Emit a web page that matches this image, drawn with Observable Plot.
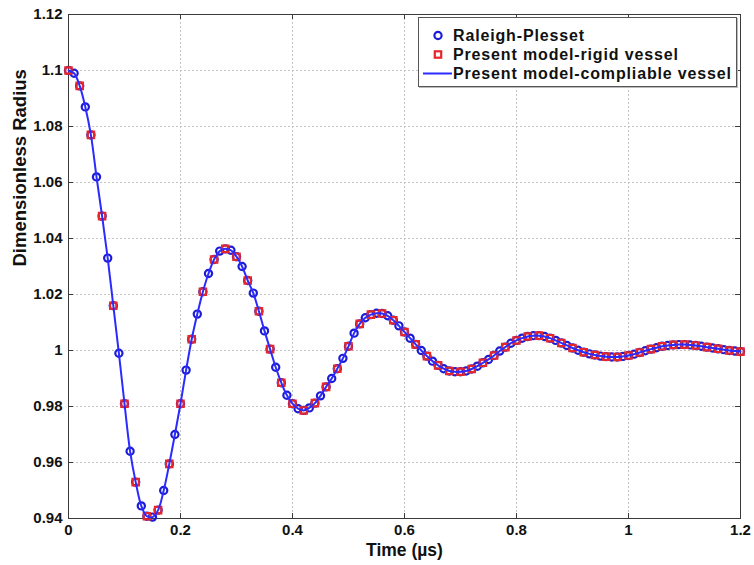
<!DOCTYPE html>
<html>
<head>
<meta charset="utf-8">
<script src="https://cdn.jsdelivr.net/npm/d3@7"></script>
<script src="https://cdn.jsdelivr.net/npm/@observablehq/plot@0.6"></script>
<style>
  html, body { margin: 0; padding: 0; background: #fff; }
  #wrap { position: relative; width: 754px; height: 565px; font-family: "Liberation Sans", Arial, sans-serif; }
  #legend { position: absolute; left: 418px; top: 17px; width: 317px; height: 68px; border: 1px solid #555; background: #fff; box-shadow: 1px 1px 0 #bbb; font-weight: bold; font-size: 16px; letter-spacing: 0.85px; color: #111; }
  .row { position: absolute; left: 0; height: 19px; display: flex; align-items: center; white-space: nowrap; }
  .row svg { display: block; }
</style>
</head>
<body>
<div id="wrap"></div>
<script>
// Time (µs) samples
const time = [0.00,0.01,0.02,0.03,0.04,0.05,0.06,0.07,0.08,0.09,
  0.10,0.11,0.12,0.13,0.14,0.15,0.16,0.17,0.18,0.19,
  0.20,0.21,0.22,0.23,0.24,0.25,0.26,0.27,0.28,0.29,
  0.30,0.31,0.32,0.33,0.34,0.35,0.36,0.37,0.38,0.39,
  0.40,0.41,0.42,0.43,0.44,0.45,0.46,0.47,0.48,0.49,
  0.50,0.51,0.52,0.53,0.54,0.55,0.56,0.57,0.58,0.59,
  0.60,0.61,0.62,0.63,0.64,0.65,0.66,0.67,0.68,0.69,
  0.70,0.71,0.72,0.73,0.74,0.75,0.76,0.77,0.78,0.79,
  0.80,0.81,0.82,0.83,0.84,0.85,0.86,0.87,0.88,0.89,
  0.90,0.91,0.92,0.93,0.94,0.95,0.96,0.97,0.98,0.99,
  1.00,1.01,1.02,1.03,1.04,1.05,1.06,1.07,1.08,1.09,
  1.10,1.11,1.12,1.13,1.14,1.15,1.16,1.17,1.18,1.19,1.20];

// Raleigh-Plesset (circles)
const radiusRP = [1.1000,1.0990,1.0945,1.0870,1.0770,1.0620,1.0480,1.0330,1.0160,0.9990,
  0.9810,0.9640,0.9530,0.9445,0.9408,0.9405,0.9430,0.9500,0.9595,0.9700,
  0.9810,0.9930,1.0040,1.0130,1.0210,1.0275,1.0325,1.0355,1.0363,1.0358,
  1.0335,1.0300,1.0250,1.0205,1.0140,1.0070,1.0005,0.9940,0.9885,0.9840,
  0.9810,0.9792,0.9786,0.9795,0.9812,0.9838,0.9870,0.9900,0.9935,0.9972,
  1.0015,1.0062,1.0095,1.0117,1.0128,1.0133,1.0132,1.0124,1.0108,1.0088,
  1.0066,1.0044,1.0022,1.0000,0.9980,0.9962,0.9947,0.9935,0.9927,0.9924,
  0.9924,0.9927,0.9934,0.9944,0.9956,0.9968,0.9982,0.9998,1.0012,1.0026,
  1.0036,1.0044,1.0050,1.0053,1.0053,1.0050,1.0044,1.0036,1.0027,1.0018,
  1.0009,1.0001,0.9994,0.9988,0.9984,0.9980,0.9978,0.9977,0.9977,0.9979,
  0.9982,0.9987,0.9993,0.9999,1.0005,1.0010,1.0015,1.0018,1.0020,1.0021,
  1.0021,1.0020,1.0018,1.0015,1.0012,1.0009,1.0006,1.0003,1.0000,0.9998,0.9996];

// Present model - compliable vessel (line)
const radiusCompliable = radiusRP.slice();

// Present model - rigid vessel (squares)
const timeRigid = [0.00,0.02,0.04,0.06,0.08,0.10,0.12,0.14,0.16,0.18,
  0.20,0.22,0.24,0.26,0.28,0.30,0.32,0.34,0.36,0.38,
  0.40,0.42,0.44,0.46,0.48,0.50,0.52,0.54,0.56,0.58,
  0.60,0.62,0.64,0.66,0.68,0.70,0.72,0.74,0.76,0.78,
  0.80,0.82,0.84,0.86,0.88,0.90,0.92,0.94,0.96,0.98,
  1.00,1.02,1.04,1.06,1.08,1.10,1.12,1.14,1.16,1.18,1.20];
const radiusRigid = [1.1000,1.0945,1.0770,1.0480,1.0160,0.9810,0.9530,0.9408,0.9430,0.9595,
  0.9810,1.0040,1.0210,1.0325,1.0363,1.0335,1.0250,1.0140,1.0005,0.9885,
  0.9810,0.9786,0.9812,0.9870,0.9935,1.0015,1.0095,1.0128,1.0132,1.0108,
  1.0066,1.0022,0.9980,0.9947,0.9927,0.9924,0.9934,0.9956,0.9982,1.0012,
  1.0036,1.0050,1.0053,1.0044,1.0027,1.0009,0.9994,0.9984,0.9978,0.9977,
  0.9982,0.9993,1.0005,1.0015,1.0020,1.0021,1.0018,1.0012,1.0006,1.0000,0.9996];

const xTicks = [0, 0.2, 0.4, 0.6, 0.8, 1, 1.2];
const xTickLabels = ["0", "0.2", "0.4", "0.6", "0.8", "1", "1.2"];
const yTicks = [0.94, 0.96, 0.98, 1, 1.02, 1.04, 1.06, 1.08, 1.1, 1.12];
const yTickLabels = ["0.94", "0.96", "0.98", "1", "1.02", "1.04", "1.06", "1.08", "1.1", "1.12"];

const xLabel = "Time (µs)";
const yLabel = "Dimensionless Radius";
const seriesNames = ["Raleigh-Plesset", "Present model-rigid vessel", "Present model-compliable vessel"];

const rp = time.map((t, i) => ({t, r: radiusRP[i]}));
const comp = time.map((t, i) => ({t, r: radiusCompliable[i]}));
const rigid = timeRigid.map((t, i) => ({t, r: radiusRigid[i]}));

const W = 754, H = 565, ML = 68, MR = 14, MT = 14, MB = 47;
const fw = W - ML - MR, fh = H - MT - MB;
const tickLen = 5;
const axisColor = "#3a3a3a";
const blue = "#1c1cd6";
const red = "#e5262b";

const chart = Plot.plot({
  width: W, height: H,
  marginLeft: ML, marginRight: MR, marginTop: MT, marginBottom: MB,
  style: {fontFamily: "'Liberation Sans', Arial, sans-serif", fontSize: "15px", fontWeight: "bold", color: "#111", background: "#fff", overflow: "visible"},
  x: {domain: [0, 1.2]},
  y: {domain: [0.94, 1.12]},
  marks: [
    Plot.gridX(xTicks, {stroke: "#c4c4c4", strokeOpacity: 1, strokeDasharray: "2,2"}),
    Plot.gridY(yTicks, {stroke: "#c4c4c4", strokeOpacity: 1, strokeDasharray: "2,2"}),
    Plot.tickX(xTicks, {x: d => d, insetTop: fh - tickLen, stroke: axisColor}),
    Plot.tickX(xTicks, {x: d => d, insetBottom: fh - tickLen, stroke: axisColor}),
    Plot.tickY(yTicks, {y: d => d, insetRight: fw - tickLen, stroke: axisColor}),
    Plot.tickY(yTicks, {y: d => d, insetLeft: fw - tickLen, stroke: axisColor}),
    Plot.frame({stroke: axisColor}),
    Plot.axisX(xTicks, {tickSize: 0, tickPadding: 6, tickFormat: (d, i) => xTickLabels[i], label: null}),
    Plot.axisY(yTicks, {tickSize: 0, tickPadding: 6, tickFormat: (d, i) => yTickLabels[i], label: null}),
    Plot.text([xLabel], {text: d => d, frameAnchor: "bottom", dy: 37, fontSize: 17.5, fontWeight: "bold", fill: "#111"}),
    Plot.text([yLabel], {text: d => d, frameAnchor: "left", rotate: -90, dx: -48, fontSize: 18.5, fontWeight: "bold", fill: "#111"}),
    Plot.dot(rp, {x: "t", y: "r", symbol: "circle", r: 3.6, stroke: blue, strokeWidth: 2.2, fill: "none"}),
    Plot.dot(rigid, {x: "t", y: "r", symbol: "square", r: 3.6, stroke: red, strokeWidth: 2.2, fill: "none"}),
    Plot.line(comp, {x: "t", y: "r", stroke: "#2b2bff", strokeWidth: 2, curve: "catmull-rom"})
  ]
});

const wrap = document.getElementById("wrap");
wrap.appendChild(chart);

// Legend (inside plot, top right)
const legend = document.createElement("div");
legend.id = "legend";
const rowsTop = [8, 27, 46];
seriesNames.forEach((name, i) => {
  const row = document.createElement("div");
  row.className = "row";
  row.style.top = rowsTop[i] + "px";
  const sw = d3.create("svg").attr("width", 34).attr("height", 19);
  if (i === 0) sw.append("circle").attr("cx", 19).attr("cy", 9.5).attr("r", 3.6).attr("fill", "none").attr("stroke", blue).attr("stroke-width", 2.2);
  if (i === 1) sw.append("rect").attr("x", 15.8).attr("y", 6.3).attr("width", 6.4).attr("height", 6.4).attr("fill", "none").attr("stroke", red).attr("stroke-width", 2.2);
  if (i === 2) sw.append("line").attr("x1", 4).attr("x2", 33).attr("y1", 9.5).attr("y2", 9.5).attr("stroke", "#2b2bff").attr("stroke-width", 2);
  row.appendChild(sw.node());
  const label = document.createElement("span");
  label.textContent = name;
  row.appendChild(label);
  legend.appendChild(row);
});
wrap.appendChild(legend);
</script>
</body>
</html>
